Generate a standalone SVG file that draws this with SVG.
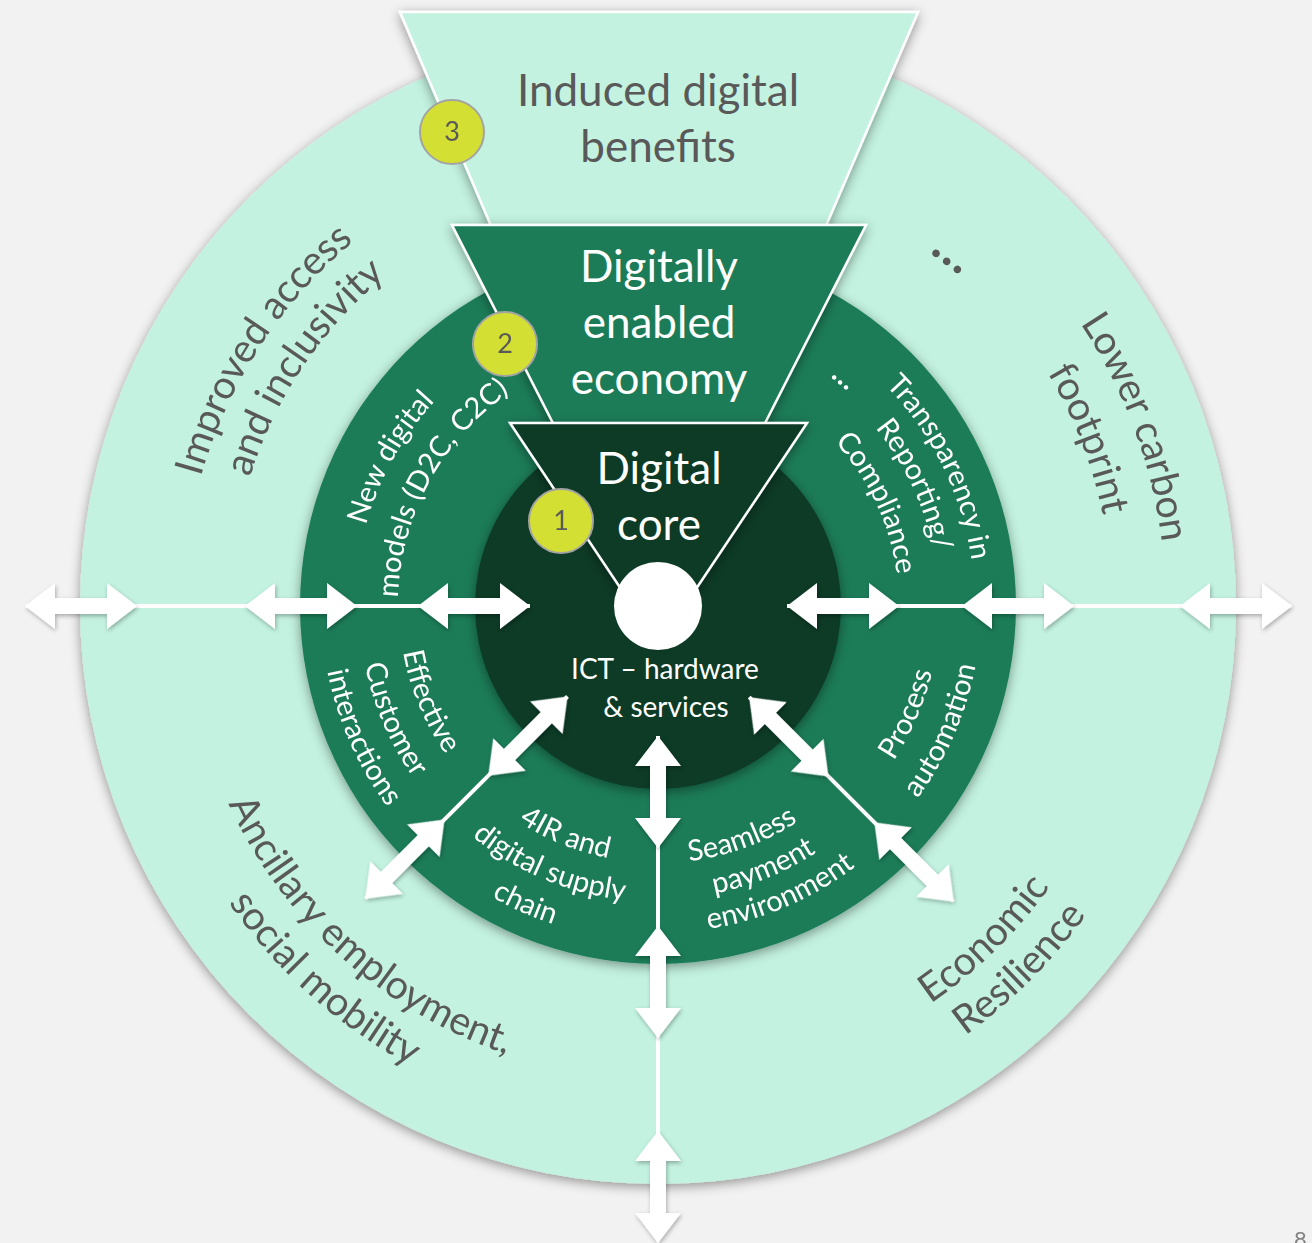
<svg xmlns="http://www.w3.org/2000/svg" xmlns:xlink="http://www.w3.org/1999/xlink" width="1312" height="1243" viewBox="0 0 1312 1243">
<style>
.gray{fill:#595959;font-family:Lato,"Open Sans",sans-serif}
.wht{fill:#ffffff;font-family:Lato,"Open Sans",sans-serif}
.big{font-size:44px}
.outer{font-size:39.5px}
.mid{font-size:29px}
.badge{fill:#d4df33;stroke:#a3a3a3;stroke-width:2}
.bnum{fill:#595959;font-family:Lato,"Open Sans",sans-serif;font-size:27px}
.arrow{fill:#ffffff}
.thin{stroke:#ffffff;stroke-width:4;fill:none}
</style>
<defs>
<filter id="sh" x="-20%" y="-20%" width="140%" height="140%">
<feDropShadow dx="0" dy="3" stdDeviation="6" flood-color="#000" flood-opacity="0.4"/>
</filter>
<filter id="ash" x="-30%" y="-60%" width="160%" height="220%">
<feDropShadow dx="1" dy="2" stdDeviation="2" flood-color="#000" flood-opacity="0.3"/>
</filter>
<path id="dbl" d="M0,0 L30,-23 L30,-8 L82,-8 L82,-23 L112,0 L82,23 L82,8 L30,8 L30,23 Z"/>
<path id="p1" d="M234.8,821.7 A475,475 0 0 1 682.8,131.7"/>
<path id="p2" d="M273.3,793.6 A428,428 0 0 1 687.9,179.0"/>
<path id="p3" d="M741.8,105.0 A508,508 0 0 1 1050.0,929.1"/>
<path id="p4" d="M727.5,157.4 A454,454 0 0 1 1011.8,890.5"/>
<path id="p5" d="M195.4,507.7 A473,473 0 0 0 804.2,1055.9"/>
<path id="p6" d="M147.0,499.3 A522,522 0 0 0 821.0,1101.9"/>
<path id="p7" d="M528.4,1070.3 A482,482 0 0 0 1124.9,486.1"/>
<path id="p8" d="M520.5,1115.8 A528,528 0 0 0 1168.3,470.3"/>
<path id="p9" d="M398.3,762.0 A303,303 0 0 1 652.7,303.1"/>
<path id="p10" d="M436.3,741.9 A260,260 0 0 1 651.2,346.1"/>
<path id="p11" d="M679.0,289.7 A317,317 0 0 1 921.4,782.3"/>
<path id="p12" d="M681.0,326.0 A281,281 0 0 1 889.0,766.0"/>
<path id="p13" d="M678.2,365.8 A241,241 0 0 1 855.9,743.5"/>
<path id="p14" d="M452.3,448.7 A259,259 0 0 0 624.6,862.9"/>
<path id="p15" d="M418.6,426.9 A299,299 0 0 0 622.6,902.9"/>
<path id="p16" d="M385.7,407.4 A337,337 0 0 0 622.2,941.1"/>
<path id="p17" d="M403.5,641.8 A257,257 0 0 0 816.2,808.5"/>
<path id="p18" d="M364.4,643.6 A296,296 0 0 0 837.4,841.5"/>
<path id="p19" d="M324.8,641.0 A335,335 0 0 0 854.9,877.0"/>
<path id="p20" d="M492.8,802.9 A257,257 0 0 0 911.1,650.6"/>
<path id="p21" d="M477.2,836.6 A293,293 0 0 0 948.1,647.3"/>
<path id="p22" d="M461.2,867.1 A327,327 0 0 0 982.5,645.9"/>
<path id="p23" d="M690.4,886.1 A282,282 0 0 0 884.4,437.9"/>
<path id="p24" d="M694.0,927.0 A323,323 0 0 0 918.0,414.3"/>
</defs>
<rect width="1312" height="1243" fill="#f2f2f2"/>
<g id="rings">
<circle cx="658" cy="606" r="578" fill="#c3f2e0" filter="url(#sh)"/>
<circle cx="658" cy="606" r="358" fill="#1b7c58" filter="url(#sh)"/>
<circle cx="658" cy="606" r="183" fill="#0b3a28" filter="url(#sh)"/>
</g>
<g id="node-induced">
<polygon points="400,12 918,12 825,228 492,228" fill="#c3f2e0" stroke="#ffffff" stroke-width="2.5" filter="url(#sh)"/>
<text class="gray big" text-anchor="middle" x="658" y="106">Induced digital</text>
<text class="gray big" text-anchor="middle" x="658" y="162">benefits</text>
</g>
<g id="node-enabled">
<polygon points="452,225 866,225 761.5,430 556.5,430" fill="#1b7c58" stroke="#ffffff" stroke-width="2.5" filter="url(#sh)"/>
<text class="wht big" text-anchor="middle" x="659" y="282">Digitally</text>
<text class="wht big" text-anchor="middle" x="659" y="338">enabled</text>
<text class="wht big" text-anchor="middle" x="659" y="394">economy</text>
</g>
<g id="node-core">
<polygon points="510,423 807,423 658.5,645" fill="#0b3a28" stroke="#ffffff" stroke-width="2.5" filter="url(#sh)"/>
<text class="wht big" text-anchor="middle" x="659" y="484">Digital</text>
<text class="wht big" text-anchor="middle" x="659" y="540">core</text>
</g>
<g id="node-ict">
<circle cx="658" cy="606" r="44" fill="#ffffff"/>
<text class="wht" font-size="28" text-anchor="middle" x="665" y="679">ICT – hardware</text>
<text class="wht" font-size="28" text-anchor="middle" x="666" y="717">&amp; services</text>
</g>
<g id="connectors">
<path class="thin" d="M25,606 H530 M787,606 H1292 M658,736 V1243 M567.5,696.5 L365.3,898.7 M749.2,697.2 L953.6,901.6"/>
<g class="arrow" filter="url(#ash)">
<use xlink:href="#dbl" transform="translate(25,606)"/>
<use xlink:href="#dbl" transform="translate(245,606)"/>
<use xlink:href="#dbl" transform="translate(418,606)"/>
<use xlink:href="#dbl" transform="translate(787,606)"/>
<use xlink:href="#dbl" transform="translate(962,606)"/>
<use xlink:href="#dbl" transform="translate(1180,606)"/>
<use xlink:href="#dbl" transform="translate(658,736) rotate(90)"/>
<use xlink:href="#dbl" transform="translate(658,926) rotate(90)"/>
<use xlink:href="#dbl" transform="translate(658,1131) rotate(90)"/>
<use xlink:href="#dbl" transform="translate(567.5,696.5) rotate(135)"/>
<use xlink:href="#dbl" transform="translate(444.5,819.5) rotate(135)"/>
<use xlink:href="#dbl" transform="translate(749.2,697.2) rotate(45)"/>
<use xlink:href="#dbl" transform="translate(874.4,822.4) rotate(45)"/>
</g>
</g>
<g id="badge-3"><circle class="badge" cx="452" cy="132" r="32"/><text class="bnum" text-anchor="middle" x="452" y="141">3</text></g>
<g id="badge-2"><circle class="badge" cx="505" cy="344" r="32"/><text class="bnum" text-anchor="middle" x="505" y="353">2</text></g>
<g id="badge-1"><circle class="badge" cx="561" cy="521" r="32"/><text class="bnum" text-anchor="middle" x="561" y="530">1</text></g>
<g id="outer-labels">
<text class="gray outer"><textPath xlink:href="#p1" startOffset="50%" text-anchor="middle">Improved access</textPath></text>
<text class="gray outer"><textPath xlink:href="#p2" startOffset="50%" text-anchor="middle">and inclusivity</textPath></text>
<text class="gray outer"><textPath xlink:href="#p3" startOffset="50%" text-anchor="middle">Lower carbon</textPath></text>
<text class="gray outer"><textPath xlink:href="#p4" startOffset="50%" text-anchor="middle">footprint</textPath></text>
<text class="gray outer"><textPath xlink:href="#p5" startOffset="50%" text-anchor="middle">Ancillary employment,</textPath></text>
<text class="gray outer"><textPath xlink:href="#p6" startOffset="50%" text-anchor="middle">social mobility</textPath></text>
<text class="gray outer"><textPath xlink:href="#p7" startOffset="50%" text-anchor="middle">Economic</textPath></text>
<text class="gray outer"><textPath xlink:href="#p8" startOffset="50%" text-anchor="middle">Resilience</textPath></text>
<text class="gray" font-size="50" font-weight="bold" transform="translate(950,257) rotate(37)" text-anchor="middle" y="9">…</text>
</g>
<g id="middle-labels">
<text class="wht mid"><textPath xlink:href="#p9" startOffset="50%" text-anchor="middle">New digital</textPath></text>
<text class="wht mid"><textPath xlink:href="#p10" startOffset="50%" text-anchor="middle">models (D2C, C2C)</textPath></text>
<text class="wht mid"><textPath xlink:href="#p11" startOffset="50%" text-anchor="middle">Transparency in</textPath></text>
<text class="wht mid"><textPath xlink:href="#p12" startOffset="50%" text-anchor="middle">Reporting/</textPath></text>
<text class="wht mid"><textPath xlink:href="#p13" startOffset="50%" text-anchor="middle">Compliance</textPath></text>
<text class="wht mid"><textPath xlink:href="#p14" startOffset="50%" text-anchor="middle">Effective</textPath></text>
<text class="wht mid"><textPath xlink:href="#p15" startOffset="50%" text-anchor="middle">Customer</textPath></text>
<text class="wht mid"><textPath xlink:href="#p16" startOffset="50%" text-anchor="middle">interactions</textPath></text>
<text class="wht mid"><textPath xlink:href="#p17" startOffset="50%" text-anchor="middle">4IR and</textPath></text>
<text class="wht mid"><textPath xlink:href="#p18" startOffset="50%" text-anchor="middle">digital supply</textPath></text>
<text class="wht mid"><textPath xlink:href="#p19" startOffset="50%" text-anchor="middle">chain</textPath></text>
<text class="wht mid"><textPath xlink:href="#p20" startOffset="50%" text-anchor="middle">Seamless</textPath></text>
<text class="wht mid"><textPath xlink:href="#p21" startOffset="50%" text-anchor="middle">payment</textPath></text>
<text class="wht mid"><textPath xlink:href="#p22" startOffset="50%" text-anchor="middle">environment</textPath></text>
<text class="wht mid"><textPath xlink:href="#p23" startOffset="50%" text-anchor="middle">Process</textPath></text>
<text class="wht mid"><textPath xlink:href="#p24" startOffset="50%" text-anchor="middle">automation</textPath></text>
<text class="wht mid" font-weight="bold" transform="translate(842,380) rotate(40)" text-anchor="middle" y="5">…</text>
</g>
<text id="page-number" x="1294" y="1247" fill="#7f7f7f" font-family="Lato,sans-serif" font-size="22">8</text>
</svg>
